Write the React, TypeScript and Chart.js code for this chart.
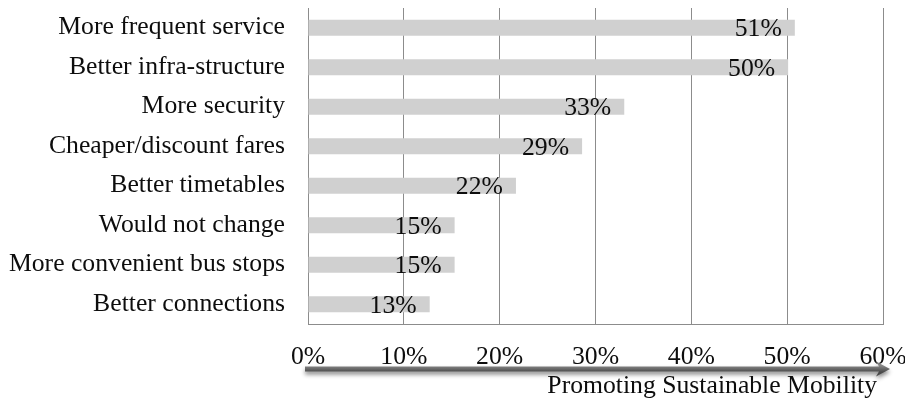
import React, { useEffect, useRef } from "react";
import { Chart, registerables } from "chart.js";

Chart.register(...registerables);

const categories = [
  "More frequent service",
  "Better infra-structure",
  "More security",
  "Cheaper/discount fares",
  "Better timetables",
  "Would not change",
  "More convenient bus stops",
  "Better connections",
];
const values = [50.8, 50.1, 33.0, 28.6, 21.7, 15.3, 15.3, 12.7];
const valueLabels = ["51%", "50%", "33%", "29%", "22%", "15%", "15%", "13%"];
const axisMax = 60;
const axisStep = 10;
const arrowTitle = "Promoting Sustainable Mobility";

const FONT = "'Liberation Serif', 'Times New Roman', serif";
const FS = 25.7;
const TEXT = "#0d0d0d";

const valueLabelPlugin = {
  id: "valueLabels",
  afterDatasetsDraw(chart: any) {
    const ctx = chart.ctx;
    const meta = chart.getDatasetMeta(0);
    ctx.save();
    ctx.font = `${FS}px ${FONT}`;
    ctx.fillStyle = TEXT;
    ctx.textAlign = "right";
    ctx.textBaseline = "middle";
    meta.data.forEach((bar: any, i: number) => {
      ctx.fillText(valueLabels[i], bar.x - 13, bar.y + 2);
    });
    ctx.restore();
  },
};

const arrowPlugin = {
  id: "arrowTitle",
  afterDraw(chart: any) {
    const ctx = chart.ctx;
    const xs = chart.scales.x;
    const x0 = xs.left - 3;
    const x1 = xs.right + 7;
    const y = chart.chartArea.bottom + 45;
    ctx.save();
    ctx.shadowColor = "rgba(0,0,0,0.45)";
    ctx.shadowBlur = 4;
    ctx.shadowOffsetY = 3;
    const grad = ctx.createLinearGradient(0, y - 3, 0, y + 3);
    grad.addColorStop(0, "#858585");
    grad.addColorStop(1, "#4a4a4a");
    ctx.fillStyle = grad;
    ctx.beginPath();
    ctx.moveTo(x0, y - 2.5);
    ctx.lineTo(x1 - 11, y - 2.5);
    ctx.lineTo(x1 - 14, y - 7.5);
    ctx.lineTo(x1, y);
    ctx.lineTo(x1 - 14, y + 7.5);
    ctx.lineTo(x1 - 11, y + 2.5);
    ctx.lineTo(x0, y + 2.5);
    ctx.closePath();
    ctx.fill();
    ctx.restore();

    ctx.save();
    ctx.font = `${FS}px ${FONT}`;
    ctx.fillStyle = TEXT;
    ctx.textAlign = "right";
    ctx.textBaseline = "alphabetic";
    ctx.fillText(arrowTitle, xs.right - 6, y + 24);
    ctx.restore();
  },
};

export default function App() {
  const ref = useRef<HTMLCanvasElement>(null);
  useEffect(() => {
    document.body.style.margin = "0";
    const canvas = ref.current!;
    const chart = new Chart(canvas, {
      type: "bar",
      data: {
        labels: categories,
        datasets: [
          {
            data: values,
            backgroundColor: "#d0d0d0",
            borderWidth: 0,
            barPercentage: 0.41,
            categoryPercentage: 1,
          },
        ],
      },
      options: {
        indexAxis: "y",
        responsive: false,
        animation: false,
        layout: { padding: { top: 8, right: 22, left: 0, bottom: 0 } },
        plugins: { legend: { display: false }, tooltip: { enabled: false } },
        scales: {
          x: {
            min: 0,
            max: axisMax,
            ticks: {
              stepSize: axisStep,
              callback: (v: any) => `${v}%`,
              font: { family: FONT, size: FS },
              color: TEXT,
              padding: 18,
              maxRotation: 0,
            },
            grid: { color: "#8c8c8c", drawTicks: false, lineWidth: 1 },
            border: { color: "#8c8c8c" },
            afterFit(scale: any) {
              scale.height = 74;
              scale.paddingLeft = 0;
              scale.paddingRight = 0;
              scale.paddingTop = 0;
              scale.paddingBottom = 0;
            },
          },
          y: {
            ticks: {
              font: { family: FONT, size: FS },
              color: TEXT,
              padding: 23,
            },
            grid: { display: false, drawTicks: false },
            border: { display: true, color: "#8c8c8c" },
            afterFit(scale: any) {
              scale.width = 308;
              scale.paddingLeft = 0;
              scale.paddingRight = 0;
              scale.paddingTop = 0;
              scale.paddingBottom = 0;
            },
          },
        },
      },
      plugins: [valueLabelPlugin, arrowPlugin],
    });
    return () => chart.destroy();
  }, []);
  return (
    <div style={{ width: 905, height: 398 }}>
      <canvas ref={ref} width={905} height={398} />
    </div>
  );
}
